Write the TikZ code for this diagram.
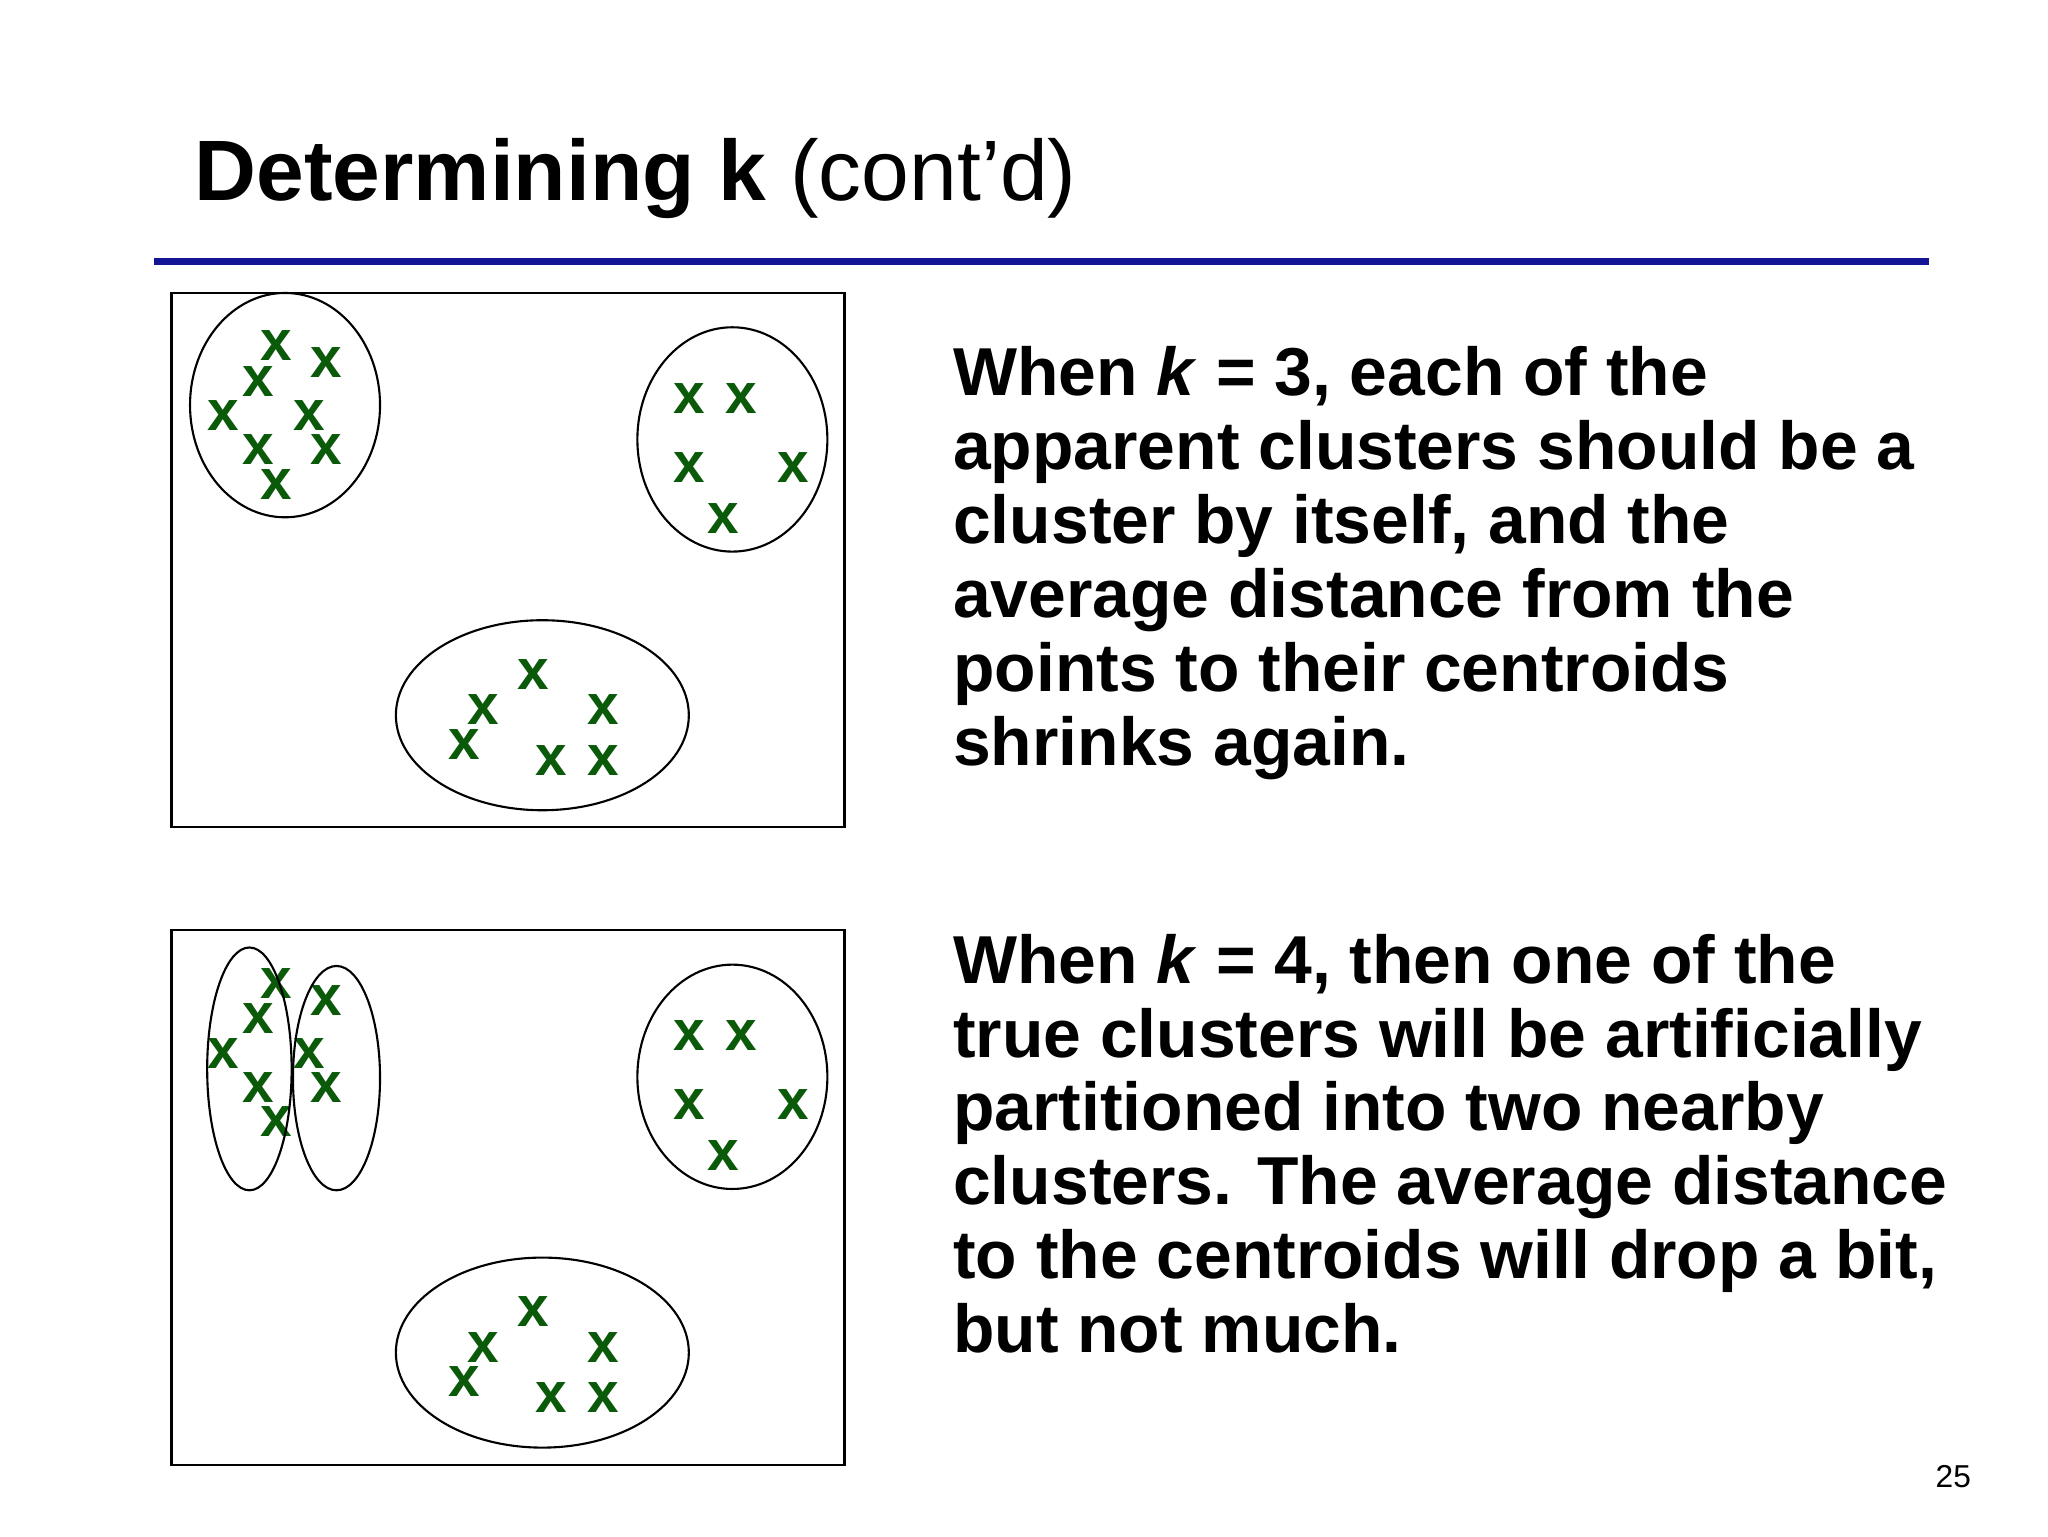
\documentclass[tikz,border=0pt]{standalone}
\usepackage{fontspec}
\setmainfont{Liberation Sans}
\definecolor{xg}{RGB}{10,90,10}
\definecolor{rule}{RGB}{20,20,150}
\begin{document}
\begin{tikzpicture}[x=0.5pt,y=-0.5pt,
  mk/.style={text=xg,font=\fontsize{21.5}{21.5}\selectfont\bfseries,inner sep=0pt},
  ln/.style={anchor=base west,inner sep=0pt,font=\fontsize{25.7}{28}\selectfont\bfseries},
  frame/.style={draw,line width=0.8pt},
  cl/.style={draw,line width=0.8pt}]
\useasboundingbox (0,0) rectangle (1552,1164);
\node[anchor=base west,inner sep=0pt,font=\fontsize{32.5}{34}\selectfont] (title) at (147,152) {\textbf{Determining k} (cont’d)};
\draw[rule,line width=2.6pt] (117,198) coordinate (r1) -- (1462,198) coordinate (r2);
\foreach \dy/\n in {0/a,483/b}{
  \draw[frame] (130,222+\dy) rectangle (640,627+\dy);
  \draw[cl] (555,333+\dy) ellipse [x radius=72,y radius=85];
  \draw[cl] (411,542+\dy) ellipse [x radius=111,y radius=72];
  \foreach \p [count=\i] in {(209,262),(247,275),(196,289),(169,315),(234,315),(196,341),(247,341),(209,367),
     (522,302),(562,302),(522,354),(601,354),(548,393),
     (404,511),(366,538),(457,538),(352,564),(418,576),(457,576)}{
     \path \p ++(0,\dy) node[mk] (x\n\i) {x};
  }
}
\draw[cl] (216,307) ellipse [x radius=72,y radius=85];
\draw[cl] (189,810) ellipse [x radius=32,y radius=92];
\draw[cl] (255,817) ellipse [x radius=33,y radius=85];
\node[ln] (t1) at (722,300) {When \textit{k} = 3, each of the};
\node[ln] (t2) at (722,356) {apparent clusters should be a};
\node[ln] (t3) at (722,412) {cluster by itself, and the};
\node[ln] (t4) at (722,468) {average distance from the};
\node[ln] (t5) at (722,524) {points to their centroids};
\node[ln] (t6) at (722,580) {shrinks again.};
\node[ln] (u1) at (722,745) {When \textit{k} = 4, then one of the};
\node[ln] (u2) at (722,801) {true clusters will be artificially};
\node[ln] (u3) at (722,857) {partitioned into two nearby};
\node[ln] (u4) at (722,913) {clusters. The average distance};
\node[ln] (u5) at (722,969) {to the centroids will drop a bit,};
\node[ln] (u6) at (722,1025) {but not much.};
\node[anchor=base east,inner sep=0pt,font=\fontsize{12}{12}\selectfont] (pg) at (1494,1127) {25};
\end{tikzpicture}
\end{document}
